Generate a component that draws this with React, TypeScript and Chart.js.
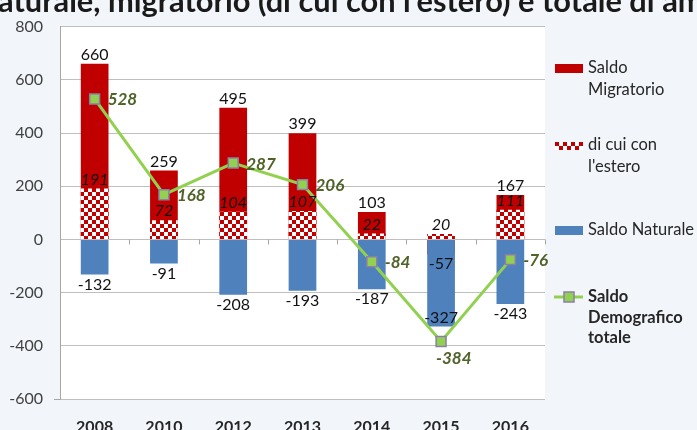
import React, { useEffect, useRef } from 'react';
import { Chart, registerables } from 'chart.js';

Chart.register(...registerables);

const categories = ['2008', '2010', '2012', '2013', '2014', '2015', '2016'];
const saldoMigratorio = [660, 259, 495, 399, 103, -57, 167];
const diCuiEstero = [191, 72, 104, 107, 22, 20, 111];
const saldoNaturale = [-132, -91, -208, -193, -187, -327, -243];
const saldoTotale = [528, 168, 287, 206, -84, -384, -76];

const yMin = -600;
const yMax = 800;
const yStep = 200;

const titleText = "Saldo naturale, migratorio (di cui con l'estero) e totale di ambito";
const legendMigratorio = ['Saldo', 'Migratorio'];
const legendEstero = ['di cui con', "l'estero"];
const legendNaturale = ['Saldo Naturale'];
const legendTotale = ['Saldo', 'Demografico', 'totale'];

const FONT = 'Lato, "Open Sans", "DejaVu Sans", sans-serif';
const RED = '#C00000';
const BLUE = '#4F81BD';
const GREEN = '#92D050';
const DARKGREEN = '#4F6228';
const MARKER_BORDER = '#8A7FA8';
const BG = '#F2F6FA';
const GRID = '#BFBFBF';

function makePattern(ctx: CanvasRenderingContext2D): CanvasPattern | string {
  const c = document.createElement('canvas');
  c.width = 8;
  c.height = 8;
  const p = c.getContext('2d');
  if (!p) return RED;
  p.fillStyle = '#ffffff';
  p.fillRect(0, 0, 8, 8);
  p.fillStyle = RED;
  p.fillRect(0, 0, 4, 4);
  p.fillRect(4, 4, 4, 4);
  return ctx.createPattern(c, 'repeat') || RED;
}

const backgroundPlugin = {
  id: 'bgPlugin',
  beforeDraw(chart: any) {
    const { ctx, chartArea } = chart;
    ctx.save();
    ctx.fillStyle = BG;
    ctx.fillRect(0, 0, chart.width, chart.height);
    ctx.fillStyle = '#ffffff';
    ctx.fillRect(chartArea.left, chartArea.top, chartArea.right - chartArea.left, chartArea.bottom - chartArea.top);
    ctx.restore();
  },
  beforeDatasetsDraw(chart: any) {
    const { ctx, chartArea } = chart;
    const x = chart.scales.x;
    const y = chart.scales.y;
    const y0 = y.getPixelForValue(0);
    ctx.save();
    ctx.strokeStyle = '#A6A6A6';
    ctx.lineWidth = 1;
    ctx.beginPath();
    const n = categories.length;
    const bounds: number[] = [chartArea.left];
    for (let i = 0; i < n - 1; i++) {
      bounds.push((x.getPixelForValue(i) + x.getPixelForValue(i + 1)) / 2);
    }
    bounds.push(chartArea.right);
    bounds.forEach((bx) => {
      const px = Math.round(bx) + 0.5;
      ctx.moveTo(px, y0);
      ctx.lineTo(px, y0 + 5);
    });
    // small outward tick at the bottom of the value axis
    const yb = Math.round(y.getPixelForValue(yMin)) + 0.5;
    ctx.moveTo(chartArea.left - 6, yb);
    ctx.lineTo(chartArea.left, yb);
    ctx.stroke();
    ctx.restore();
  },
};

const labelsPlugin = {
  id: 'labelsPlugin',
  afterDatasetsDraw(chart: any) {
    const ctx: CanvasRenderingContext2D = chart.ctx;
    const mMig = chart.getDatasetMeta(0);
    const mEst = chart.getDatasetMeta(1);
    const mNat = chart.getDatasetMeta(2);
    const mTot = chart.getDatasetMeta(3);
    ctx.save();
    ctx.textAlign = 'center';
    ctx.textBaseline = 'middle';
    ctx.fillStyle = '#111111';

    ctx.font = `16px ${FONT}`;
    saldoMigratorio.forEach((v, i) => {
      const el = mMig.data[i];
      ctx.fillText(String(v), el.x, v >= 0 ? el.y - 9 : el.y + 9);
    });

    ctx.font = `italic 16px ${FONT}`;
    diCuiEstero.forEach((v, i) => {
      const el = mEst.data[i];
      ctx.fillText(String(v), el.x, el.y - 9);
    });

    ctx.font = `16px ${FONT}`;
    saldoNaturale.forEach((v, i) => {
      const el = mNat.data[i];
      const inside = saldoTotale[i] < v;
      ctx.fillText(String(v), el.x, inside ? el.y - 9 : el.y + 10);
    });

    ctx.font = `italic bold 17px ${FONT}`;
    ctx.fillStyle = DARKGREEN;
    ctx.textAlign = 'left';
    const minVal = Math.min(...saldoTotale);
    saldoTotale.forEach((v, i) => {
      const el = mTot.data[i];
      if (v === minVal) {
        ctx.fillText(String(v), el.x - 5, el.y + 17);
      } else {
        ctx.fillText(String(v), el.x + 13, el.y + 1);
      }
    });
    ctx.restore();
  },
  afterDraw(chart: any) {
    const ctx: CanvasRenderingContext2D = chart.ctx;
    ctx.save();
    ctx.fillStyle = '#1a1a1a';
    ctx.textBaseline = 'alphabetic';
    ctx.textAlign = 'left';
    let fs = 26;
    ctx.font = `bold ${fs}px ${FONT}`;
    const visible = "aturale, migratorio (di cui con l'estero) e totale di am";
    const w = ctx.measureText(visible).width;
    fs = fs * 706 / w;
    ctx.font = `bold ${fs}px ${FONT}`;
    const pre = ctx.measureText('Saldo n').width;
    ctx.fillText(titleText, -pre - 2, 12);

    const sx = 555;
    const sw = 28;
    const tx = 588;
    ctx.font = `16.5px ${FONT}`;
    ctx.fillStyle = '#262626';
    ctx.textBaseline = 'middle';
    const drawLines = (lines: string[], y0: number, lh: number) => {
      lines.forEach((t, k) => ctx.fillText(t, tx, y0 + k * lh));
    };
    ctx.fillStyle = RED;
    ctx.fillRect(sx, 64, sw, 9);
    ctx.fillStyle = '#262626';
    drawLines(legendMigratorio, 68, 22);

    ctx.fillStyle = makePattern(ctx) as any;
    ctx.save();
    ctx.translate(sx, 142);
    ctx.fillRect(0, 0, sw, 8);
    ctx.restore();
    ctx.fillStyle = '#262626';
    drawLines(legendEstero, 145, 22);

    ctx.fillStyle = BLUE;
    ctx.fillRect(sx, 226, sw, 9);
    ctx.fillStyle = '#262626';
    drawLines(legendNaturale, 230, 22);

    ctx.strokeStyle = GREEN;
    ctx.lineWidth = 3;
    ctx.beginPath();
    ctx.moveTo(sx - 1, 297);
    ctx.lineTo(sx + sw, 297);
    ctx.stroke();
    ctx.fillStyle = GREEN;
    ctx.fillRect(sx + sw / 2 - 5, 292, 10, 10);
    ctx.strokeStyle = MARKER_BORDER;
    ctx.lineWidth = 1.5;
    ctx.strokeRect(sx + sw / 2 - 5, 292, 10, 10);
    ctx.fillStyle = '#262626';
    ctx.font = `bold 16.5px ${FONT}`;
    drawLines(legendTotale, 297, 20.5);
    ctx.restore();
  },
};

export default function App() {
  const canvasRef = useRef<HTMLCanvasElement | null>(null);

  useEffect(() => {
    const canvas = canvasRef.current;
    if (!canvas) return;
    const ctx = canvas.getContext('2d');
    if (!ctx) return;
    const pattern = makePattern(ctx);

    const chart = new Chart(ctx, {
      type: 'bar',
      data: {
        labels: categories,
        datasets: [
          {
            type: 'bar',
            label: 'Saldo Migratorio',
            data: saldoMigratorio,
            backgroundColor: RED,
            grouped: false,
            order: 3,
            barPercentage: 0.4,
            categoryPercentage: 1,
          } as any,
          {
            type: 'bar',
            label: "di cui con l'estero",
            data: diCuiEstero,
            backgroundColor: pattern,
            grouped: false,
            order: 2,
            barPercentage: 0.4,
            categoryPercentage: 1,
          } as any,
          {
            type: 'bar',
            label: 'Saldo Naturale',
            data: saldoNaturale,
            backgroundColor: BLUE,
            grouped: false,
            order: 1,
            barPercentage: 0.4,
            categoryPercentage: 1,
          } as any,
          {
            type: 'line',
            label: 'Saldo Demografico totale',
            data: saldoTotale,
            borderColor: GREEN,
            borderWidth: 3,
            backgroundColor: GREEN,
            pointStyle: 'rect',
            pointRadius: 7,
            pointBackgroundColor: GREEN,
            pointBorderColor: MARKER_BORDER,
            pointBorderWidth: 1.5,
            order: 0,
            tension: 0,
          } as any,
        ],
      },
      options: {
        animation: false,
        responsive: true,
        maintainAspectRatio: false,
        layout: { padding: { left: 0, right: 152, top: 19, bottom: 0 } },
        plugins: {
          legend: { display: false },
          tooltip: { enabled: false },
          title: { display: false },
        },
        scales: {
          x: {
            offset: true,
            grid: { display: false },
            border: { display: false },
            ticks: {
              color: '#262626',
              font: { family: FONT, size: 16, weight: 'bold' },
              padding: 10,
              maxRotation: 0,
            },
            afterFit(scale: any) {
              scale.height = 31;
            },
          },
          y: {
            min: yMin,
            max: yMax,
            grid: { color: GRID, drawTicks: false, lineWidth: 1 },
            border: { display: true, color: '#A6A6A6' },
            ticks: {
              stepSize: yStep,
              color: '#404040',
              font: { family: FONT, size: 16 },
              padding: 17,
            },
            afterFit(scale: any) {
              scale.width = 60;
            },
          },
        },
      },
      plugins: [backgroundPlugin, labelsPlugin],
    });

    return () => {
      chart.destroy();
    };
  }, []);

  return (
    <div style={{ position: 'fixed', left: 0, top: 0, width: 697, height: 430, background: BG }}>
      <canvas ref={canvasRef} />
    </div>
  );
}
